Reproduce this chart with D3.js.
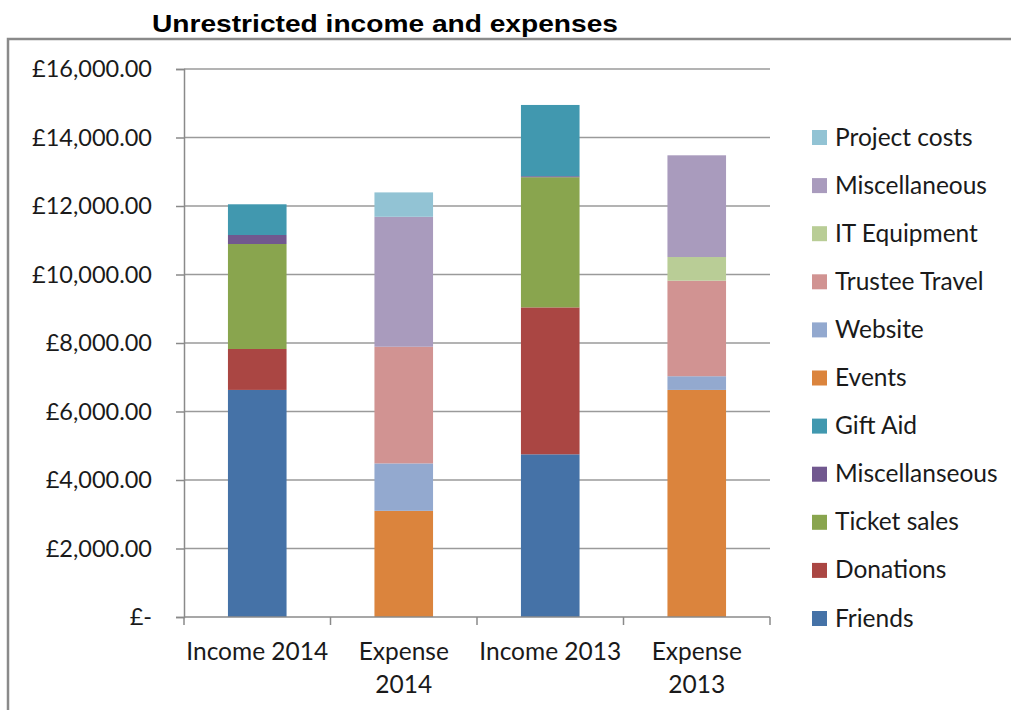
<!DOCTYPE html>
<html>
<head>
<meta charset="utf-8">
<script src="https://cdn.jsdelivr.net/npm/d3@7"></script>
<style>
	body { margin: 0; background: #fff; }
	svg text { font-family: Lato, "Open Sans", sans-serif; fill: #1a1a1a; }
</style>
</head>
<body>
<div id="chart"></div>
<script>
// categories along the x axis (second line after the space for expenses)
const categories = ['Income 2014', 'Expense 2014', 'Income 2013', 'Expense 2013'];
const categoryLines = [['Income 2014'], ['Expense', '2014'], ['Income 2013'], ['Expense', '2013']];

// series, bottom of the stack first
const friends = [6630, 0, 4750, 0];
const donations = [1195, 0, 4290, 0];
const ticketSales = [3065, 0, 3800, 0];
const miscIncome = [263, 0, 30, 0];
const giftAid = [897, 0, 2080, 0];
const events = [0, 3100, 0, 6630];
const website = [0, 1385, 0, 400];
const trusteeTravel = [0, 3405, 0, 2790];
const itEquipment = [0, 0, 0, 690];
const miscExpense = [0, 3795, 0, 2970];
const projectCosts = [0, 712, 0, 0];

const seriesNames = ['Friends', 'Donations', 'Ticket sales', 'Miscellanseous', 'Gift Aid',
	'Events', 'Website', 'Trustee Travel', 'IT Equipment', 'Miscellaneous', 'Project costs'];
const seriesValues = [friends, donations, ticketSales, miscIncome, giftAid,
	events, website, trusteeTravel, itEquipment, miscExpense, projectCosts];
const seriesColors = ['#4572A7', '#AA4643', '#89A54E', '#71588F', '#4198AF',
	'#DB843D', '#93A9CF', '#D19392', '#B9CD96', '#A99BBD', '#92C3D4'];

const yTicks = [0, 2000, 4000, 6000, 8000, 10000, 12000, 14000, 16000];
const titleText = 'Unrestricted income and expenses';

const width = 1011, height = 710;
const plot = {left: 184, right: 770, top: 69, bottom: 617};

const svg = d3.select('#chart').append('svg')
	.attr('width', width)
	.attr('height', height);

// chart area border (runs off the right and bottom edges)
svg.append('rect')
	.attr('x', 8).attr('y', 39)
	.attr('width', 1100).attr('height', 800)
	.attr('fill', 'none')
	.attr('stroke', '#8a8a8a')
	.attr('stroke-width', 2.5);

svg.append('text')
	.attr('x', 152).attr('y', 32)
	.attr('textLength', 466)
	.attr('lengthAdjust', 'spacingAndGlyphs')
	.style('font-family', '"Liberation Sans", Arial, sans-serif')
	.style('font-weight', 'bold')
	.style('font-size', '24px')
	.style('fill', '#000')
	.text(titleText);

const x = d3.scaleBand()
	.domain(categories)
	.range([plot.left, plot.right])
	.paddingInner(0.6)
	.paddingOuter(0.3);

const y = d3.scaleLinear()
	.domain([0, 16000])
	.range([plot.bottom, plot.top]);

const gbp = d => d === 0 ? '£-' : '£' + d3.format(',.2f')(d);

// gridlines
svg.append('g')
	.selectAll('line')
	.data(yTicks.filter(d => d > 0))
	.join('line')
	.attr('x1', plot.left).attr('x2', plot.right)
	.attr('y1', d => y(d)).attr('y2', d => y(d))
	.attr('stroke', '#9a9a9a')
	.attr('stroke-width', 1.5);

// stacked bars
const table = categories.map((c, i) => {
	const row = {category: c};
	seriesNames.forEach((s, j) => { row[s] = seriesValues[j][i]; });
	return row;
});
const stacked = d3.stack().keys(seriesNames)(table);

svg.append('g')
	.selectAll('g')
	.data(stacked)
	.join('g')
	.attr('fill', (d, i) => seriesColors[i])
	.selectAll('rect')
	.data(d => d.filter(p => p[1] - p[0] > 0))
	.join('rect')
	.attr('x', d => x(d.data.category))
	.attr('width', x.bandwidth())
	.attr('y', d => y(d[1]))
	.attr('height', d => y(d[0]) - y(d[1]));

// y axis
const yAxis = svg.append('g')
	.attr('transform', `translate(${plot.left},0)`)
	.call(d3.axisLeft(y).tickValues(yTicks).tickFormat(gbp).tickSize(8).tickPadding(24));
yAxis.select('.domain').attr('stroke', '#8a8a8a').attr('stroke-width', 1.5);
yAxis.selectAll('.tick line').attr('stroke', '#8a8a8a').attr('stroke-width', 1.5);
yAxis.selectAll('.tick text')
	.style('font-size', '23.5px')
	.style('fill', '#1a1a1a');

// x axis with ticks between categories
const step = x.step();
const boundaries = d3.range(categories.length + 1).map(i => plot.left + i * step);
const xAxisG = svg.append('g');
xAxisG.append('line')
	.attr('x1', plot.left).attr('x2', plot.right)
	.attr('y1', plot.bottom).attr('y2', plot.bottom)
	.attr('stroke', '#8a8a8a').attr('stroke-width', 1.5);
xAxisG.selectAll('.xt')
	.data(boundaries)
	.join('line')
	.attr('class', 'xt')
	.attr('x1', d => d).attr('x2', d => d)
	.attr('y1', plot.bottom).attr('y2', plot.bottom + 8)
	.attr('stroke', '#8a8a8a').attr('stroke-width', 1.5);
xAxisG.selectAll('.xl')
	.data(categories)
	.join('text')
	.attr('class', 'xl')
	.attr('text-anchor', 'middle')
	.style('font-size', '24.5px')
	.selectAll('tspan')
	.data((d, i) => categoryLines[i].map(t => ({t, c: d})))
	.join('tspan')
	.attr('x', d => x(d.c) + x.bandwidth() / 2)
	.attr('y', (d, k) => 660 + k * 33)
	.text(d => d.t);

// legend, top entry is the last series
const legendOrder = seriesNames.map((s, i) => i).reverse();
const legend = svg.append('g')
	.selectAll('g')
	.data(legendOrder)
	.join('g')
	.attr('transform', (d, k) => `translate(812,${137 + k * 48.1})`);
legend.append('rect')
	.attr('x', 0).attr('y', -7)
	.attr('width', 15).attr('height', 15)
	.attr('fill', d => seriesColors[d]);
legend.append('text')
	.attr('x', 23).attr('y', 0)
	.attr('dy', '0.35em')
	.style('font-size', '24.5px')
	.text(d => seriesNames[d]);
</script>
</body>
</html>
